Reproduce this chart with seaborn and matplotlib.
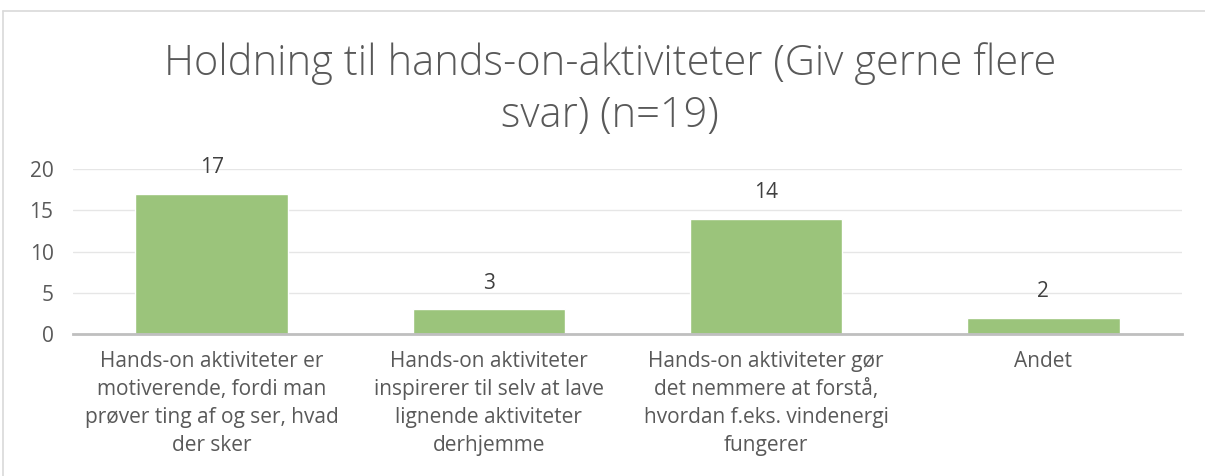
import matplotlib
matplotlib.use("Agg")
import matplotlib.pyplot as plt
import seaborn as sns
import pandas as pd
from matplotlib.lines import Line2D

categories = [
    "Hands-on aktiviteter er\nmotiverende, fordi man\nprøver ting af og ser, hvad\nder sker",
    "Hands-on aktiviteter\ninspirerer til selv at lave\nlignende aktiviteter\nderhjemme",
    "Hands-on aktiviteter gør\ndet nemmere at forstå,\nhvordan f.eks. vindenergi\nfungerer",
    "Andet",
]
counts = [17, 3, 14, 2]
title = "Holdning til hands-on-aktiviteter (Giv gerne flere\nsvar) (n=19)"

df = pd.DataFrame({"cat": categories, "n": counts})

sns.set_style("white")
plt.rcParams["font.family"] = ["Open Sans", "DejaVu Sans"]

fig = plt.figure(figsize=(12.05, 4.76), dpi=100)
ax = fig.add_axes([73 / 1205, 142 / 476, (1182 - 73) / 1205, 165 / 476])

sns.barplot(data=df, x="cat", y="n", color="#9BC47B", saturation=1, width=0.55, ax=ax, zorder=3)

ax.set_ylim(0, 20)
ax.set_yticks([0, 5, 10, 15, 20])
ax.yaxis.grid(True, color="#e6e6e6", linewidth=1, zorder=0)
for s in ["top", "right", "left"]:
    ax.spines[s].set_visible(False)
ax.spines["bottom"].set_color("#bfbfbf")
ax.spines["bottom"].set_linewidth(2)
ax.spines["bottom"].set_zorder(4)
ax.tick_params(axis="both", length=0, labelsize=15, colors="#595959", pad=14)
ax.tick_params(axis="x", pad=12)
ax.set_xlabel("")
ax.set_ylabel("")
for lab in ax.get_xticklabels():
    lab.set_linespacing(1.45)

for i, v in enumerate(counts):
    ax.annotate(str(v), (i, v), xytext=(0, 11), textcoords="offset points",
                ha="center", va="bottom", fontsize=15, color="#404040")

fig.text(0.506, 1 - 42 / 476, title, ha="center", va="top", fontsize=30,
         color="#595959", fontweight="light", linespacing=1.3)

# chart area frame
fig.add_artist(Line2D([3 / 1205, 1], [1 - 11 / 476] * 2, color="#d9d9d9", lw=1.2))
fig.add_artist(Line2D([3 / 1205] * 2, [0, 1 - 11 / 476], color="#d9d9d9", lw=1.2))

fig.savefig("out.png", dpi=100, facecolor="white")
